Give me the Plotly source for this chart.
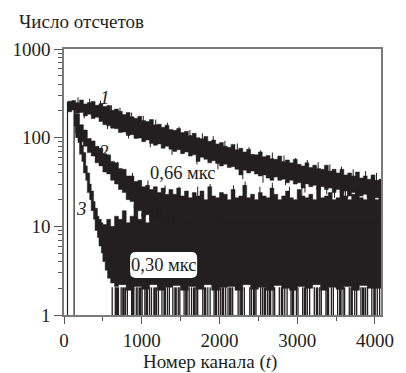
import plotly.graph_objects as go

INK = "#231f20"
AXC = "#7a7a7a"
FONT = "Liberation Serif"

# ---------------- data ----------------
# curve 1 (slow decay): upper and lower edge of the noisy band
C1_CH = [50, 100, 150, 200, 250, 300, 350, 400, 450, 500, 550, 600, 650, 700, 750, 800, 850, 900, 950,
         1000, 1050, 1100, 1150, 1200, 1250, 1300, 1350, 1400, 1450, 1500, 1550, 1600, 1650, 1700, 1750,
         1800, 1850, 1900, 1950, 2000, 2050, 2100, 2150, 2200, 2250, 2300, 2350, 2400, 2450, 2500, 2550,
         2600, 2650, 2700, 2750, 2800, 2850, 2900, 2950, 3000, 3050, 3100, 3150, 3200, 3250, 3300, 3350,
         3400, 3450, 3500, 3550, 3600, 3650, 3700, 3750, 3800, 3850, 3900, 3950, 4000, 4050, 4080]
C1_TOP = [258, 262, 248, 266, 240, 250, 256, 232, 242, 225, 230, 204, 210, 198, 182, 192, 172, 166, 174,
          156, 152, 160, 140, 142, 131, 138, 124, 121, 127, 114, 118, 106, 112, 100, 97,
          103, 91, 94, 85, 88, 80, 78, 84, 73, 76, 69, 74, 65, 64, 69, 61,
          63, 58, 57, 62, 54, 56, 52, 57, 50, 48, 52, 46, 49, 45, 44, 49,
          42, 44, 40, 44, 38, 40, 37, 41, 35, 37, 34, 38, 33, 34, 33]
C1_BOT = [200, 196, 205, 188, 192, 176, 184, 165, 170, 152, 140, 136, 128, 126, 114, 116, 106, 108, 98,
          99, 90, 94, 86, 82, 85, 76, 80, 74, 70, 73, 66, 69, 62, 64, 54,
          60, 57, 52, 55, 51, 48, 50, 46, 47, 44, 38, 43, 40, 42, 39, 37,
          38, 35, 33, 36, 33, 34, 31, 33, 30, 31, 27, 30, 28, 29, 26, 28,
          26, 27, 24, 26, 24, 25, 22, 24, 23, 22, 23, 21, 22, 21, 21]
# single-channel spikes sticking out of curve 1 (channel, from, to)
C1_SPIKE_CH = [180, 330, 470, 610, 720, 870, 1020, 1180, 1330, 1480, 1620, 1780, 1920, 2070, 2230, 2380,
               2530, 2680, 2830, 2980, 3130, 3270, 3420, 3570, 3720, 3880, 4020,
               260, 560, 830, 1110, 1390, 1710, 1980, 2300, 2560, 2850, 3100, 3380, 3650, 3950]
C1_SPIKE_FROM = [245, 238, 225, 200, 188, 165, 150, 136, 124, 112, 103, 93, 86, 77, 70, 65,
                 60, 56, 52, 49, 45, 44, 41, 38, 36, 34, 32,
                 190, 145, 115, 92, 76, 62, 53, 42, 38, 33, 29, 27, 25, 22]
C1_SPIKE_TO = [285, 275, 262, 232, 218, 192, 176, 160, 148, 133, 122, 112, 104, 92, 86, 78,
               72, 68, 63, 59, 56, 53, 50, 47, 44, 42, 40,
               165, 125, 98, 78, 64, 50, 44, 34, 31, 29, 24, 23, 21, 19]

# curve 2 (medium decay + background)
C2_CH = [130, 150, 200, 250, 300, 350, 400, 450, 500, 550, 600, 650, 700, 750, 800, 850, 900, 950,
         1000, 1050, 1100, 1150, 1200, 1250, 1300, 1350, 1400, 1450, 1500, 1550, 1600, 1650, 1700, 1750,
         1800, 1850, 1900, 1950, 2000, 2050, 2100, 2150, 2200, 2250, 2300, 2350, 2400, 2450, 2500, 2550,
         2600, 2650, 2700, 2750, 2800, 2850, 2900, 2950, 3000, 3050, 3100, 3150, 3200, 3250, 3300, 3350,
         3400, 3450, 3500, 3550, 3600, 3650, 3700, 3750, 3800, 3850, 3900, 3950, 4000, 4050, 4080]
C2_TOP = [205, 185, 140, 122, 98, 92, 80, 76, 66, 64, 54, 52, 45, 44, 37, 37, 32, 33,
          28, 29, 26, 28, 24, 27, 23, 26, 23, 27, 22, 25, 21, 24, 22, 25,
          20, 28, 22, 21, 24, 23, 20, 26, 21, 22, 29, 21, 23, 20, 24, 22,
          21, 27, 23, 20, 22, 25, 21, 20, 26, 22, 21, 23, 20, 28, 21, 22,
          24, 20, 21, 25, 22, 20, 23, 26, 21, 20, 23, 22, 20, 24, 22]
C2_BOT_CH = [130, 150, 200, 250, 300, 350, 400, 450, 500, 550, 600, 650, 700, 750, 800, 850, 900, 950,
             1000, 1050, 1100, 1150, 1200, 1250, 1300, 1350, 1400, 1450, 1500, 1550, 1600,
             2000, 2500, 3000, 3500, 4080]
C2_BOT = [180, 160, 112, 90, 80, 68, 62, 52, 48, 41, 39, 33, 30, 26, 24, 20, 19, 16,
          15, 13, 13.5, 11.5, 11.5, 10, 10.5, 9.5, 9, 9, 8.5, 8.5, 8,
          7.5, 7.5, 7.5, 7.5, 7.5]
C2_SPIKE_CH = [480, 690, 880, 1080, 1300, 1480, 1720, 1880, 2180, 2330, 2520, 2680, 2900, 3060,
               3290, 3480, 3620, 3780, 3930, 4070]
C2_SPIKE_FROM = [68, 46, 34, 27, 24, 23, 22, 22, 22, 22, 22, 22, 21, 21, 21, 21, 21, 21, 21, 21]
C2_SPIKE_TO = [78, 53, 40, 33, 29, 28, 28, 30, 29, 32, 28, 31, 28, 30, 31, 28, 29, 30, 28, 29]

# curve 3 (fast decay + background)
C3_TOP_CH = [130, 150, 180, 200, 230, 250, 280, 300, 330, 350, 380, 400, 430, 450, 480, 500,
             550, 600, 650, 700, 750, 800, 850, 900, 950, 1000, 1050, 1100, 1150, 1200, 1250, 1300,
             1350, 1400, 1450, 1500, 1550, 1600, 2000, 3000, 4080]
C3_TOP = [175, 160, 125, 108, 82, 68, 48, 40, 30, 25, 19, 16, 13, 12, 11, 10.5,
          12, 10, 13, 12, 15, 11, 13, 17, 12, 14, 11, 15, 12, 17, 11, 13,
          10.5, 13, 11, 12, 11, 12, 11, 11, 11]
C3_BOT_CH = [130, 150, 180, 200, 230, 250, 280, 300, 330, 350, 380, 400, 430, 450, 480, 500, 530,
             560, 600, 650, 700, 800, 900, 1000, 1100, 1200, 1300, 1400, 1500, 1600, 1700, 1800,
             1900, 2000, 2100, 2200, 2300, 2400, 2500, 2600, 2700, 2800, 2900, 3000, 3100, 3200,
             3300, 3400, 3500, 3600, 3700, 3800, 3900, 4000, 4080]
C3_BOT = [150, 135, 100, 88, 65, 54, 40, 33, 24, 20, 15, 12, 9, 7.5, 6, 5, 4,
          3.2, 2.6, 2.3, 2.1, 2.2, 1.9, 2.1, 1.95, 2.2, 1.9, 2.05, 2.15, 1.9, 2.1, 1.95,
          2.2, 1.9, 2.05, 2.1, 1.9, 2.2, 1.95, 2.05, 1.9, 2.15, 2.0, 1.9, 2.1, 2.0,
          2.2, 1.9, 2.05, 1.95, 2.1, 1.9, 2.15, 2.0, 2.0]

# channels of curve 3 with (near-)zero counts: lines that drop to the bottom of the log axis
ZERO_CH = [620, 660, 700, 735, 790, 815, 870, 930, 950, 1005, 1040, 1100, 1125, 1190, 1215, 1260, 1330,
           1355, 1400, 1470, 1490, 1545, 1610, 1640, 1700, 1720, 1785, 1850, 1880, 1930, 1990, 2015,
           2080, 2110, 2170, 2240, 2265, 2320, 2390, 2410, 2470, 2530, 2555, 2620, 2690, 2710, 2770,
           2840, 2870, 2920, 2990, 3010, 3070, 3130, 3160, 3220, 3290, 3310, 3370, 3440, 3465, 3520,
           3590, 3610, 3670, 3740, 3765, 3820, 3880, 3905, 3960, 4030, 4060]
ZERO_WIDE_CH = [680, 765, 890, 980, 1065, 1165, 1295, 1435, 1575, 1675, 1815, 1955, 2045, 2140, 2285,
                2445, 2585, 2650, 2805, 2945, 3100, 3255, 3395, 3555, 3700, 3850, 3995]
ZERO_TOP = 2.05

# rising edges of the histograms
RISE_CH = [45, 130]
RISE_TOP = [255, 205]

X_TICKS = [0, 1000, 2000, 3000, 4000]
Y_TICKS = [1, 10, 100, 1000]
Y_TICK_TEXT = ["1", "10", "100", "1000"]

for a, b in [(C1_CH, C1_TOP), (C1_CH, C1_BOT), (C2_CH, C2_TOP), (C2_BOT_CH, C2_BOT),
             (C3_TOP_CH, C3_TOP), (C3_BOT_CH, C3_BOT), (C1_SPIKE_CH, C1_SPIKE_FROM),
             (C1_SPIKE_CH, C1_SPIKE_TO), (C2_SPIKE_CH, C2_SPIKE_FROM), (C2_SPIKE_CH, C2_SPIKE_TO)]:
    assert len(a) == len(b), (len(a), len(b))

# ---------------- figure ----------------
fig = go.Figure()


def band(ch_top, top, ch_bot, bot):
    xs = list(ch_top) + list(reversed(ch_bot))
    ys = list(top) + list(reversed(bot))
    fig.add_trace(go.Scatter(x=xs, y=ys, mode="lines", fill="toself", fillcolor=INK,
                             line=dict(color=INK, width=0.5, shape="hv"),
                             hoverinfo="skip", showlegend=False))


def segments(chs, y0s, y1s, width):
    xs, ys = [], []
    for c, a, b in zip(chs, y0s, y1s):
        xs += [c, c, None]
        ys += [a, b, None]
    fig.add_trace(go.Scatter(x=xs, y=ys, mode="lines", line=dict(color=INK, width=width),
                             hoverinfo="skip", showlegend=False))


band(C1_CH, C1_TOP, C1_CH, C1_BOT)
band(C2_CH, C2_TOP, C2_BOT_CH, C2_BOT)
band(C3_TOP_CH, C3_TOP, C3_BOT_CH, C3_BOT)

segments(C1_SPIKE_CH, C1_SPIKE_FROM, C1_SPIKE_TO, 1.0)
segments(C2_SPIKE_CH, C2_SPIKE_FROM, C2_SPIKE_TO, 1.0)
segments(ZERO_CH, [1] * len(ZERO_CH), [ZERO_TOP] * len(ZERO_CH), 1.3)
segments(ZERO_WIDE_CH, [1] * len(ZERO_WIDE_CH), [ZERO_TOP] * len(ZERO_WIDE_CH), 2.6)
segments(RISE_CH, [1] * len(RISE_CH), RISE_TOP, 1.2)

minor_vals = [m * d for d in (1, 10, 100) for m in range(2, 10)]

fig.update_xaxes(range=[0, 4078], tickvals=X_TICKS, ticks="outside", ticklen=7, tickwidth=1.2,
                 tickcolor="#555", showline=True, linecolor=AXC, linewidth=1.5, mirror=True,
                 showgrid=False, zeroline=False,
                 tickfont=dict(family=FONT, size=19, color=INK),
                 minor=dict(dtick=500, ticks="outside", ticklen=4, tickcolor="#555", tickwidth=1,
                            showgrid=False))
fig.update_yaxes(type="log", range=[0, 3], tickvals=Y_TICKS, ticktext=Y_TICK_TEXT,
                 ticks="outside", ticklen=8, tickwidth=1.2, tickcolor="#555",
                 showline=True, linecolor=AXC, linewidth=1.5, mirror=True,
                 showgrid=False, zeroline=False,
                 tickfont=dict(family=FONT, size=19, color=INK),
                 minor=dict(tickvals=minor_vals, ticks="outside", ticklen=4, tickcolor="#555",
                            tickwidth=1, showgrid=False))

# rounded white box behind "0,30 мкс"
bx0, bx1, by0, by1, r = 0.2085, 0.42, 0.139, 0.237, 0.018
ry_ = r * 331 / 266
path = (f"M{bx0 + r},{by0} L{bx1 - r},{by0} Q{bx1},{by0} {bx1},{by0 + ry_} "
        f"L{bx1},{by1 - ry_} Q{bx1},{by1} {bx1 - r},{by1} L{bx0 + r},{by1} "
        f"Q{bx0},{by1} {bx0},{by1 - ry_} L{bx0},{by0 + ry_} Q{bx0},{by0} {bx0 + r},{by0} Z")
fig.add_shape(type="path", path=path, xref="paper", yref="paper", fillcolor="white",
              line=dict(color="white", width=0), layer="above")

ann_font = dict(family=FONT, size=19, color=INK)
lab_font = dict(family=FONT, size=18.5, color=INK)
fig.add_annotation(x=527, y=2.458, xref="x", yref="y", text="<i>1</i>", showarrow=False, font=ann_font)
fig.add_annotation(x=514, y=1.849, xref="x", yref="y", text="<i>2</i>", showarrow=False, font=ann_font)
fig.add_annotation(x=230, y=1.206, xref="x", yref="y", text="<i>3</i>", showarrow=False, font=ann_font)
fig.add_annotation(x=1520, y=1.601, xref="x", yref="y", text="0,66 мкс", showarrow=False, font=lab_font)
fig.add_annotation(x=1280, y=0.564, xref="x", yref="y", text="0,30 мкс", showarrow=False, font=lab_font)

fig.add_annotation(x=-0.148, y=1.105, xref="paper", yref="paper", xanchor="left", yanchor="middle",
                   text="Число отсчетов", showarrow=False, font=ann_font)
fig.add_annotation(x=0.4607, y=-0.1767, xref="paper", yref="paper", xanchor="center", yanchor="middle",
                   text="Номер канала (<i>t</i>)", showarrow=False, font=ann_font)

fig.update_layout(width=406, height=373, margin=dict(l=58, r=17, t=49, b=58),
                  paper_bgcolor="white", plot_bgcolor="white", showlegend=False,
                  font=dict(family=FONT, color=INK))

fig.write_html("out.html")
